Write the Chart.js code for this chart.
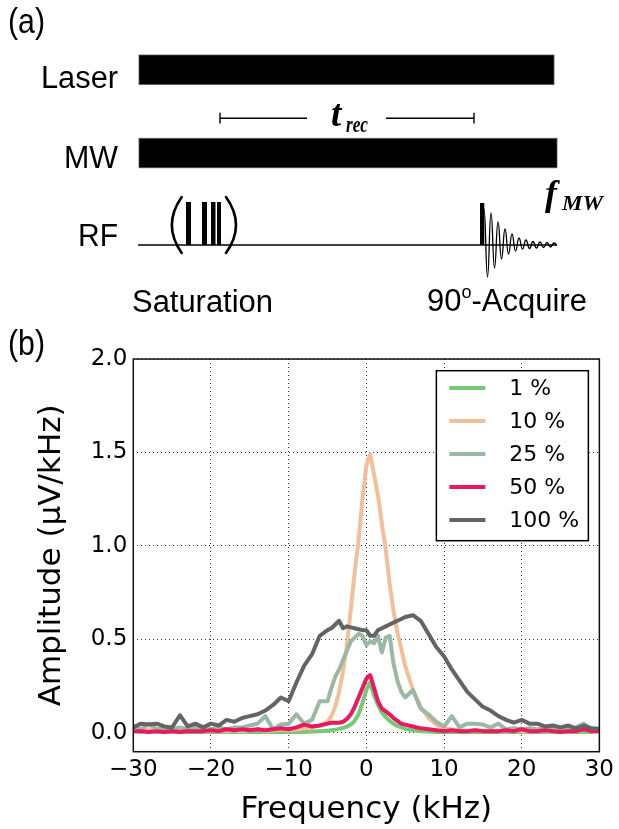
<!DOCTYPE html>
<html><head><meta charset="utf-8">
<script src="https://cdn.jsdelivr.net/npm/chart.js@4"></script>
<style>
html,body{margin:0;padding:0;background:#fff;width:619px;height:829px;overflow:hidden;}
#wrap{position:relative;width:619px;height:829px;}
#chartBox{position:absolute;left:0;top:320px;width:619px;height:509px;}
#overlay{position:absolute;left:0;top:0;z-index:2;pointer-events:none;}
</style></head>
<body>
<div id="wrap">
<div id="chartBox"><canvas id="c" width="619" height="509"></canvas></div>
<svg id="overlay" width="619" height="829" xmlns="http://www.w3.org/2000/svg">
  <g font-family="Liberation Sans, Arial, Helvetica, sans-serif" font-size="30" fill="#000">
    <text x="8" y="33" font-size="35" textLength="37" lengthAdjust="spacingAndGlyphs">(a)</text>
    <text x="8" y="355" font-size="35" textLength="37" lengthAdjust="spacingAndGlyphs">(b)</text>
    <text x="41" y="88" font-size="31" textLength="77" lengthAdjust="spacingAndGlyphs">Laser</text>
    <text x="64" y="168" font-size="31" textLength="54" lengthAdjust="spacingAndGlyphs">MW</text>
    <text x="78" y="246" font-size="31" textLength="40" lengthAdjust="spacingAndGlyphs">RF</text>
    <text x="132" y="312" font-size="31" textLength="141" lengthAdjust="spacingAndGlyphs">Saturation</text>
    <text x="427" y="311" font-size="31">90<tspan font-size="18" dy="-13">o</tspan><tspan dy="13">-Acquire</tspan></text>
  </g>
  <!-- Laser and MW bars -->
  <rect x="139" y="55" width="415" height="29.5" fill="#000" stroke="#555" stroke-width="0.8"/>
  <rect x="139" y="138.3" width="418" height="29.5" fill="#000" stroke="#555" stroke-width="0.8"/>
  <!-- t_rec bracket -->
  <g stroke="#000" stroke-width="1.4">
    <line x1="220" y1="118.3" x2="307" y2="118.3"/>
    <line x1="386" y1="118.3" x2="474" y2="118.3"/>
    <line x1="220" y1="112.7" x2="220" y2="123.5"/>
    <line x1="474" y1="112.7" x2="474" y2="123.5"/>
  </g>
  <g font-family="Liberation Serif, Times New Roman, serif" font-weight="bold" font-style="italic" fill="#000">
    <text x="331" y="126" font-size="37">t</text>
    <text x="346" y="131.5" font-size="24" textLength="22" lengthAdjust="spacingAndGlyphs">rec</text>
    <text x="545" y="204.5" font-size="36">f</text>
    <text x="562" y="210" font-size="22" textLength="41" lengthAdjust="spacingAndGlyphs">MW</text>
  </g>
  <!-- RF line -->
  <line x1="138" y1="245" x2="557" y2="245" stroke="#000" stroke-width="1.4"/>
  <!-- saturation pulses -->
  <g fill="#000">
    <rect x="186" y="202" width="5" height="43"/>
    <rect x="202" y="202" width="5" height="43"/>
    <rect x="211" y="202" width="4.5" height="43"/>
    <rect x="217" y="202" width="4" height="43"/>
    <rect x="480" y="203" width="4.3" height="42"/>
  </g>
  <g fill="none" stroke="#000" stroke-width="2.6" stroke-linecap="round">
    <path d="M181.7,197 Q162,225 181.7,253"/>
    <path d="M226,197 Q246,225 226,253"/>
  </g>
  <path id="fid" fill="none" stroke="#000" stroke-width="1.3"/>
</svg>
</div>
<script>
// ---- Panel (b) data ----
const freq = [-30,-29,-28,-27,-26,-25,-24,-23,-22,-21,-20,-19,-18,-17,-16,-15,-14,-13,-12,-11,-10,-9,-8,-7,-6,
  -5,-4.5,-4,-3.5,-3,-2.5,-2,-1.5,-1,-0.5,0,0.5,1,1.5,2,2.5,3,3.5,4,4.5,5,
  6,7,8,9,10,11,12,13,14,15,16,17,18,19,20,21,22,23,24,25,26,27,28,29,30];

const amp1 = [0.01,0.005,0.01,0.005,0.005,0.005,0.006,0.005,0.005,0.005,0.005,0.006,0.005,0.005,0.005,0.005,0.006,0.005,0.005,0.005,0.005,0.005,0.006,0.008,0.01,
  0.012,0.015,0.018,0.022,0.027,0.034,0.045,0.065,0.10,0.16,0.23,0.27,0.20,0.15,0.11,0.085,0.065,0.05,0.038,0.03,0.022,
  0.014,0.01,0.008,0.006,0.005,0.005,0.005,0.006,0.005,0.005,0.005,0.005,0.006,0.005,0.005,0.005,0.005,0.005,0.006,0.005,0.005,0.005,0.005,0.006,0.01];

const amp10 = [0.03,0.015,0.02,0.01,0.015,0.01,0.015,0.01,0.015,0.01,0.01,0.015,0.01,0.015,0.01,0.015,0.02,0.01,0.015,0.02,0.015,0.02,0.025,0.03,0.04,
  0.06,0.09,0.14,0.22,0.33,0.47,0.66,0.86,1.03,1.25,1.43,1.49,1.38,1.27,1.12,0.98,0.80,0.65,0.54,0.45,0.36,
  0.23,0.14,0.08,0.045,0.025,0.02,0.015,0.01,0.015,0.01,0.015,0.01,0.01,0.015,0.01,0.01,0.015,0.01,0.01,0.015,0.01,0.01,0.015,0.02,0.03];

const amp25 = [0.035,0.02,0.05,0.02,0.03,0.02,0.03,0.02,0.03,0.02,0.02,0.03,0.02,0.03,0.03,0.04,0.05,0.09,0.02,0.045,0.05,0.10,0.05,0.07,0.17,
  0.17,0.24,0.30,0.34,0.39,0.44,0.49,0.51,0.53,0.52,0.47,0.49,0.48,0.52,0.43,0.51,0.52,0.37,0.28,0.22,0.19,
  0.23,0.13,0.10,0.06,0.035,0.09,0.03,0.05,0.05,0.045,0.03,0.05,0.02,0.025,0.02,0.025,0.02,0.025,0.02,0.025,0.02,0.03,0.05,0.02,0.01];

const amp50 = [0.01,0.01,0.005,0.01,0.005,0.01,0.005,0.01,0.01,0.01,0.015,0.01,0.02,0.015,0.02,0.015,0.02,0.015,0.02,0.025,0.02,0.03,0.045,0.035,0.04,
  0.05,0.055,0.055,0.055,0.06,0.075,0.10,0.14,0.19,0.24,0.29,0.31,0.24,0.17,0.13,0.115,0.10,0.08,0.065,0.05,0.045,
  0.035,0.025,0.02,0.015,0.01,0.015,0.01,0.01,0.015,0.01,0.01,0.01,0.015,0.01,0.02,0.01,0.01,0.015,0.01,0.005,0.01,0.01,0.02,0.01,0.01];

const amp100 = [0.03,0.05,0.045,0.05,0.035,0.03,0.095,0.035,0.05,0.03,0.05,0.04,0.07,0.06,0.08,0.09,0.10,0.12,0.15,0.19,0.17,0.27,0.36,0.42,0.52,
  0.55,0.56,0.58,0.60,0.56,0.57,0.565,0.56,0.555,0.55,0.55,0.52,0.52,0.55,0.56,0.57,0.58,0.59,0.60,0.61,0.62,
  0.63,0.60,0.53,0.46,0.41,0.34,0.28,0.22,0.18,0.14,0.12,0.09,0.07,0.055,0.07,0.05,0.05,0.035,0.04,0.03,0.04,0.025,0.04,0.025,0.02];

const seriesLabels = ['1 %', '10 %', '25 %', '50 %', '100 %'];
const xTicks = [-30, -20, -10, 0, 10, 20, 30];
const xTickLabels = ['\u221230', '\u221220', '\u221210', '0', '10', '20', '30'];
const yTicks = [0, 0.5, 1, 1.5, 2];
const yTickLabels = ['0.0', '0.5', '1.0', '1.5', '2.0'];

// ---- Panel (a) FID schematic (illustration points) ----
const fidX = [484,487.5,491,494.5,498,501.5,505,508.5,512,515.5,519,522.5,526,529.5,533,536.5,540,543.5,547,550.5,554,557];
const fidY = [209,277,213,268,222,259,229,254,234,251,238,249,240,248.5,241.5,248,242,247.5,242.5,247,243,245];

// ---- styles ----
const seriesColors = ['#78c976', '#f2bf98', '#9bb8a4', '#e8195f', '#646464'];

(function drawFid(){
  let d = 'M' + fidX[0] + ',' + fidY[0];
  for (let i = 1; i < fidX.length; i++) {
    const h = (fidX[i] - fidX[i-1]) / 2;
    d += ' C' + (fidX[i-1] + h) + ',' + fidY[i-1] + ' ' + (fidX[i] - h) + ',' + fidY[i] + ' ' + fidX[i] + ',' + fidY[i];
  }
  document.getElementById('fid').setAttribute('d', d);
})();

const seriesValues = [amp1, amp10, amp25, amp50, amp100];
const datasets = seriesValues.map((vals, i) => ({
  label: seriesLabels[i],
  data: freq.map((f, j) => ({x: f, y: vals[j]})),
  borderColor: seriesColors[i],
  backgroundColor: seriesColors[i],
  borderWidth: 4,
  pointRadius: 0,
  tension: 0,
  borderJoinStyle: 'round',
  order: seriesValues.length - i
}));

const frameAndLegend = {
  id: 'frameAndLegend',
  afterDatasetsDraw(chart) {
    const {ctx, chartArea: ca} = chart;
    ctx.save();
    ctx.strokeStyle = '#111';
    ctx.lineWidth = 1.5;
    ctx.strokeRect(ca.left, ca.top, ca.right - ca.left, ca.bottom - ca.top);
    // legend box
    const bw = 152, bh = 170;
    const bx = ca.right - 11 - bw, by = ca.top + 11.7;
    ctx.fillStyle = '#fff';
    ctx.fillRect(bx, by, bw, bh);
    ctx.strokeStyle = '#000';
    ctx.lineWidth = 1.5;
    ctx.strokeRect(bx, by, bw, bh);
    ctx.font = '22px "DejaVu Sans"';
    ctx.textBaseline = 'middle';
    ctx.textAlign = 'left';
    chart.data.datasets.forEach((ds, i) => {
      const y = by + 17.3 + i * 33;
      ctx.strokeStyle = ds.borderColor;
      ctx.lineWidth = 4;
      ctx.beginPath();
      ctx.moveTo(bx + 13, y);
      ctx.lineTo(bx + 49, y);
      ctx.stroke();
      ctx.fillStyle = '#000';
      ctx.fillText(ds.label, bx + 73, y + 1);
    });
    ctx.restore();
  }
};

const tickFont = {family: 'DejaVu Sans', size: 23};
const titleFont = {family: 'DejaVu Sans', size: 31};

new Chart(document.getElementById('c'), {
  type: 'line',
  data: {datasets},
  options: {
    responsive: false,
    animation: false,
    devicePixelRatio: 1,
    layout: {padding: {left: 0, right: 17.3, top: 39, bottom: 0}},
    plugins: {legend: {display: false}, tooltip: {enabled: false}},
    scales: {
      x: {
        type: 'linear', min: -30, max: 30,
        afterBuildTicks: s => { s.ticks = xTicks.map(v => ({value: v})); },
        afterFit: s => { s.height = 77.3; },
        ticks: {
          font: tickFont, color: '#000', padding: 5, maxRotation: 0, autoSkip: false,
          callback: v => xTickLabels[xTicks.indexOf(v)]
        },
        grid: {color: 'rgba(0,0,0,0.8)', lineWidth: 1, drawTicks: false},
        border: {display: false, dash: [1, 3]},
        title: {display: true, text: 'Frequency (kHz)', font: titleFont, color: '#000', padding: {top: 0, bottom: 0}}
      },
      y: {
        type: 'linear', min: -0.1, max: 2.0,
        afterBuildTicks: s => { s.ticks = yTicks.map(v => ({value: v})); },
        afterFit: s => { s.width = 133.3; },
        ticks: {
          font: tickFont, color: '#000', padding: 6,
          callback: v => yTickLabels[yTicks.indexOf(v)]
        },
        grid: {color: 'rgba(0,0,0,0.8)', lineWidth: 1, drawTicks: false},
        border: {display: false, dash: [1, 3]},
        title: {display: true, text: 'Amplitude (\u03bcV/kHz)', font: titleFont, color: '#000', padding: {top: 33, bottom: 0}}
      }
    }
  },
  plugins: [frameAndLegend]
});
</script>
</body></html>
